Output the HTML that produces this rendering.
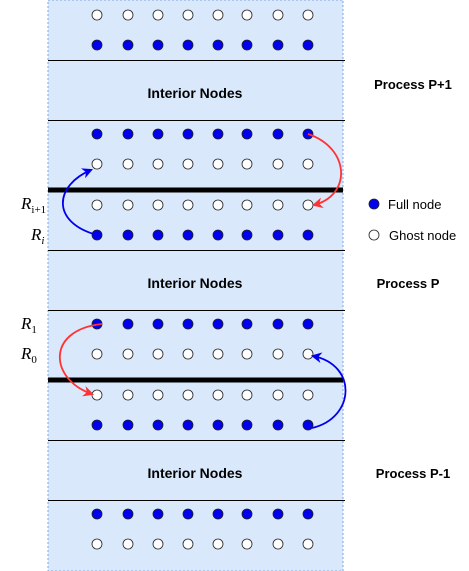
<!DOCTYPE html>
<html><head><meta charset="utf-8"><style>
body{margin:0;background:#fff;}
svg{display:block;font-family:"Liberation Sans",sans-serif;}
</style></head><body>
<svg width="469" height="571" viewBox="0 0 469 571">
<defs>
<marker id="ar" viewBox="0 0 10 10" refX="8" refY="5" markerWidth="6" markerHeight="6" orient="auto"><path d="M0,0 L10,5 L0,10 L3,5 z" fill="#ff3333"/></marker>
<marker id="ab" viewBox="0 0 10 10" refX="8" refY="5" markerWidth="6" markerHeight="6" orient="auto"><path d="M0,0 L10,5 L0,10 L3,5 z" fill="#0000ee"/></marker>
</defs>
<rect x="48" y="0" width="295" height="571" fill="#dae8fc" stroke="#7ea6e0" stroke-dasharray="2,2"/>
<g id="lines"></g>
<g id="nodes"></g>
<g font-weight="bold" font-size="14" text-anchor="middle">
<text x="195" y="98">Interior Nodes</text>
<text x="195" y="288">Interior Nodes</text>
<text x="195" y="478">Interior Nodes</text>
</g>
<g font-weight="bold" font-size="13" text-anchor="middle">
<text x="413" y="89">Process P+1</text>
<text x="408" y="288">Process P</text>
<text x="413" y="478">Process P-1</text>
</g>
<g font-size="13">
<circle cx="374" cy="204" r="5" fill="#0000ee" stroke="#222" stroke-width="0.8"/>
<text x="388" y="209">Full node</text>
<circle cx="374" cy="235" r="5" fill="#fff" stroke="#222" stroke-width="0.8"/>
<text x="389" y="240">Ghost node</text>
</g>
<g font-family="'Liberation Serif',serif" font-style="italic" font-size="17">
<text x="21" y="209">R<tspan font-size="11" dy="4" font-style="normal">i+1</tspan></text>
<text x="31" y="240">R<tspan font-size="11" dy="4">i</tspan></text>
<text x="21" y="329">R<tspan font-size="11" dy="4" font-style="normal">1</tspan></text>
<text x="21" y="359">R<tspan font-size="11" dy="4" font-style="normal">0</tspan></text>
</g>
<g fill="none" stroke-width="1.8">
<path d="M308,134 C350,148 352,195 314,205" stroke="#ff3333" marker-end="url(#ar)"/>
<path d="M97,235 C50,222 55,185 91,170" stroke="#0000ee" marker-end="url(#ab)"/>
<path d="M102,324 C45,330 50,380 92,394" stroke="#ff3333" marker-end="url(#ar)"/>
<path d="M312,428 C355,418 358,365 313,356" stroke="#0000ee" marker-end="url(#ab)"/>
</g>
</svg>
<script>
const colX=[97,128,158,188,218,247,278,308];
const rowY=[15,45,134,164,205,235,324,354,395,425,514,544];
const rowFull=[0,1,1,0,0,1,1,0,0,1,1,0];
const thinLines=[60,120,250,310,440,500];
const thickLines=[190,380];
const NS="http://www.w3.org/2000/svg";
const lg=document.getElementById('lines');
thinLines.forEach(y=>{const l=document.createElementNS(NS,'line');
l.setAttribute('x1',48);l.setAttribute('x2',345);l.setAttribute('y1',y+0.5);l.setAttribute('y2',y+0.5);
l.setAttribute('stroke','#000');l.setAttribute('stroke-width',1);


lg.appendChild(l);});
thickLines.forEach(y=>{const l=document.createElementNS(NS,'line');
l.setAttribute('x1',48);l.setAttribute('x2',343);l.setAttribute('y1',y);l.setAttribute('y2',y);
l.setAttribute('stroke','#000');l.setAttribute('stroke-width',5);


lg.appendChild(l);});
const ng=document.getElementById('nodes');
rowY.forEach((y,i)=>{colX.forEach(x=>{const c=document.createElementNS(NS,'circle');
c.setAttribute('cx',x);c.setAttribute('cy',y);c.setAttribute('r',5);
c.setAttribute('fill',rowFull[i]?'#0000ee':'#fff');c.setAttribute('stroke','#222');c.setAttribute('stroke-width',0.8);


ng.appendChild(c);});});
</script>
</body></html>
